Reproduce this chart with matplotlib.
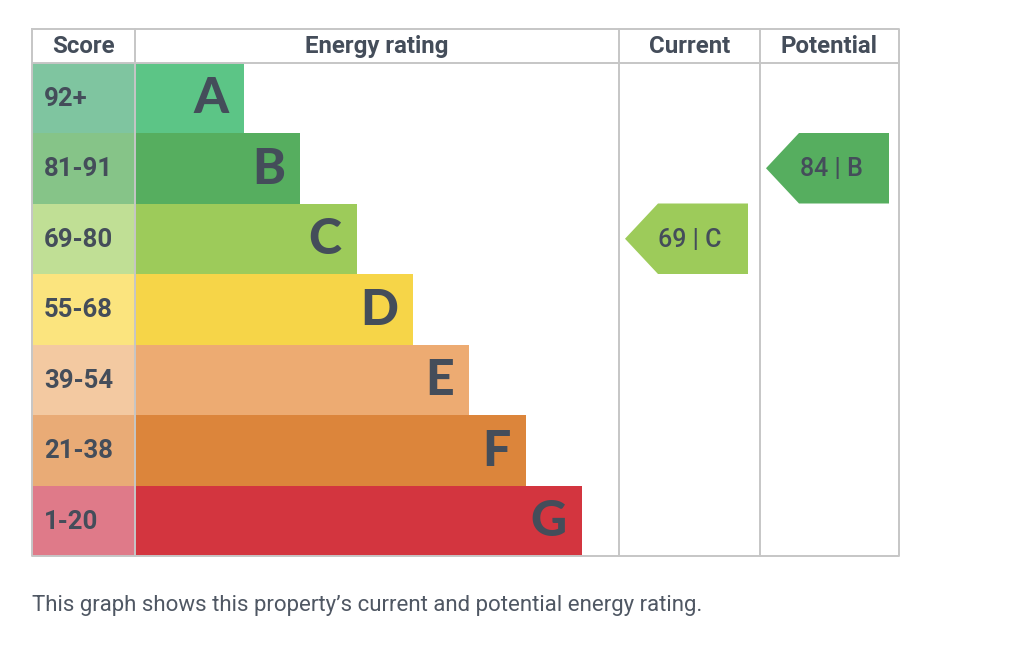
import matplotlib.pyplot as plt
from matplotlib.patches import Rectangle, Polygon

# EPC bands
bands = ['A', 'B', 'C', 'D', 'E', 'F', 'G']
score_labels = ['92+', '81-91', '69-80', '55-68', '39-54', '21-38', '1-20']
band_min = [92, 81, 69, 55, 39, 21, 1]
bar_colors = ['#5cc586', '#56ae5f', '#9dcb5a', '#f6d548', '#edab72', '#dc853b', '#d3353f']
cell_colors = ['#7fc5a0', '#86c488', '#c0df95', '#fbe47e', '#f3c9a1', '#e9ab76', '#df7a89']
headers = ['Score', 'Energy rating', 'Current', 'Potential']

current_score = 69
potential_score = 84

txt = '#444d5a'
grid = '#c6c6c6'

plt.rcParams['font.family'] = ['Roboto', 'DejaVu Sans']

fig = plt.figure(figsize=(10.24, 6.56), dpi=100)
ax = fig.add_axes([0, 0, 1, 1])
ax.set_xlim(0, 1024)
ax.set_ylim(656, 0)
ax.axis('off')

# layout (pixels)
left, right = 32, 899
top, head_bot, bottom = 29, 62.5, 556
col_x = [left, 135, 619, 760, right]
row_h = (bottom - head_bot) / len(bands)
bar_step = 56.3
bar_base = 244 - bar_step

def band_of(score):
    for i, m in enumerate(band_min):
        if score >= m:
            return i
    return len(bands) - 1

for i, (b, lab) in enumerate(zip(bands, score_labels)):
    y0 = head_bot + i * row_h
    ax.add_patch(Rectangle((col_x[0], y0), col_x[1] - col_x[0], row_h,
                           fc=cell_colors[i], ec='none', zorder=1))
    x_end = bar_base + bar_step * (i + 1)
    ax.add_patch(Rectangle((col_x[1], y0), x_end - col_x[1], row_h,
                           fc=bar_colors[i], ec='none', zorder=1))
    ax.text(44, y0 + row_h / 2 + 1, lab, ha='left', va='center', fontsize=18.5,
            fontweight='bold', color=txt, zorder=3)
    ax.text(x_end - 15, y0 + row_h / 2 + 1, b, ha='right', va='center',
            fontsize=36, fontweight='black', family=['Lato', 'DejaVu Sans'],
            color=txt, zorder=3)

# grid lines
lw = 1.4
ax.plot([left, right, right, left, left], [top, top, bottom, bottom, top],
        color=grid, lw=lw, zorder=2)
ax.plot([left, right], [head_bot, head_bot], color=grid, lw=lw, zorder=2)
for x in col_x[1:-1]:
    ax.plot([x, x], [top, bottom], color=grid, lw=lw, zorder=2)

for j, h in enumerate(headers):
    ax.text((col_x[j] + col_x[j + 1]) / 2, (top + head_bot) / 2 + 1, h,
            ha='center', va='center', fontsize=17.3, fontweight='bold',
            color=txt, zorder=3)

def arrow(col, score):
    i = band_of(score)
    y0 = head_bot + i * row_h
    y1 = y0 + row_h
    x0 = col_x[col] + 6
    x1 = x0 + 123
    pts = [(x0, (y0 + y1) / 2), (x0 + 33, y0), (x1, y0), (x1, y1), (x0 + 33, y1)]
    ax.add_patch(Polygon(pts, closed=True, fc=bar_colors[i], ec='none', zorder=3))
    ax.text(x0 + 65, (y0 + y1) / 2 + 1, f'{score} | {bands[i]}',
            ha='center', va='center', fontsize=18, fontweight='medium',
            color=txt, zorder=4)

arrow(2, current_score)
arrow(3, potential_score)

ax.text(left, 605, 'This graph shows this property\u2019s current and potential energy rating.',
        ha='left', va='center', fontsize=16, color='#4f5763')

fig.savefig('out.png', dpi=100)
